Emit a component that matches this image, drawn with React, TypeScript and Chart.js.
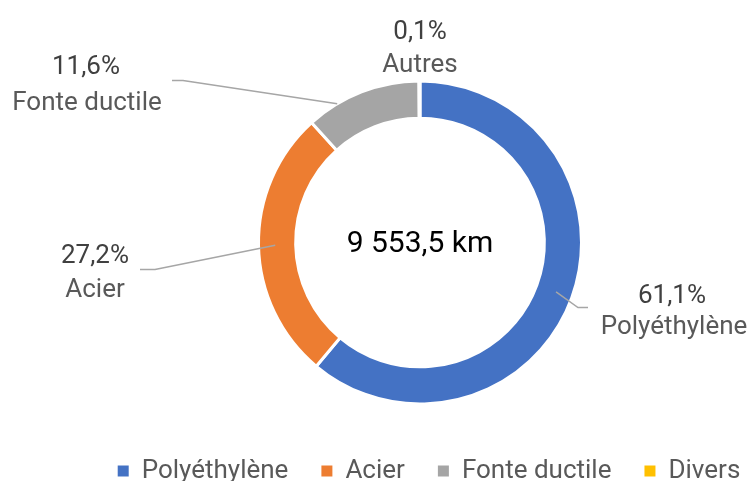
import React, { useEffect, useRef } from 'react';
import { Chart, registerables } from 'chart.js';

Chart.register(...registerables);

// ---- data ----
const categories = ['Polyéthylène', 'Acier', 'Fonte ductile', 'Divers'];
const sliceNames = ['Polyéthylène', 'Acier', 'Fonte ductile', 'Autres'];
const shares = [61.1, 27.2, 11.6, 0.1];
const centerText = '9 553,5 km';

// ---- style ----
const colors = ['#4472C4', '#ED7D31', '#A5A5A5', '#FFC000'];
const FONT = 'Roboto, "Noto Sans", sans-serif';

// label placement relative to chart centre (style only)
type LabelStyle = {
  pct: [number, number];
  name: [number, number];
  leader: null | { frac: number; rfrac: number; elbow: [number, number]; end: [number, number] };
};
const labelStyles: LabelStyle[] = [
  { pct: [252, 54], name: [254, 85], leader: { frac: 0.5, rfrac: 0.55, elbow: [158, 65], end: [168, 65] } },
  { pct: [-325, 14], name: [-325, 48], leader: { frac: 0.5, rfrac: 0.55, elbow: [-265, 27], end: [-280, 27] } },
  { pct: [-334, -175], name: [-333, -139], leader: { frac: 0.27, rfrac: 1.0, elbow: [-237, -162], end: [-248, -162] } },
  { pct: [0, -210], name: [0, -177], leader: null },
];

const fmtPct = (v: number) => v.toFixed(1).replace('.', ',') + '%';

const labelsPlugin = {
  id: 'outLabels',
  afterLayout(chart: any) {
    if (chart.legend) {
      chart.legend.left += 9;
      chart.legend.right += 9;
    }
    const ca = chart.chartArea;
    ca.left += 45;
    ca.width = ca.right - ca.left;
  },
  afterDatasetsDraw(chart: any) {
    const ctx = chart.ctx as CanvasRenderingContext2D;
    const meta = chart.getDatasetMeta(0);
    meta.data.forEach((arc: any, i: number) => {
      const p = arc.getProps(['x', 'y', 'startAngle', 'endAngle', 'innerRadius', 'outerRadius'], true);
      const st = labelStyles[i];
      const cx = p.x, cy = p.y;
      if (st.leader) {
        const a = p.startAngle + (p.endAngle - p.startAngle) * st.leader.frac;
        const r = p.innerRadius + (p.outerRadius - p.innerRadius) * st.leader.rfrac;
        ctx.save();
        ctx.strokeStyle = '#A6A6A6';
        ctx.lineWidth = 1.5;
        ctx.beginPath();
        ctx.moveTo(cx + Math.cos(a) * r, cy + Math.sin(a) * r);
        ctx.lineTo(cx + st.leader.elbow[0], cy + st.leader.elbow[1]);
        ctx.lineTo(cx + st.leader.end[0], cy + st.leader.end[1]);
        ctx.stroke();
        ctx.restore();
      }
      ctx.save();
      ctx.textAlign = 'center';
      ctx.textBaseline = 'middle';
      ctx.font = `26px ${FONT}`;
      ctx.fillStyle = '#404040';
      ctx.fillText(fmtPct(shares[i]), cx + st.pct[0], cy + st.pct[1]);
      ctx.fillStyle = '#595959';
      ctx.fillText(sliceNames[i], cx + st.name[0], cy + st.name[1]);
      ctx.restore();
    });
    // centre text
    const a0 = meta.data[0];
    if (a0) {
      ctx.save();
      ctx.textAlign = 'center';
      ctx.textBaseline = 'middle';
      ctx.font = `30px ${FONT}`;
      ctx.fillStyle = '#000000';
      ctx.fillText(centerText, a0.x, a0.y + 2);
      ctx.restore();
    }
  },
};

export default function App() {
  const ref = useRef<HTMLCanvasElement>(null);
  useEffect(() => {
    if (!ref.current) return;
    const baseGen = (Chart as any).overrides.doughnut.plugins.legend.labels.generateLabels;
    const chart = new Chart(ref.current, {
      type: 'doughnut',
      data: {
        labels: categories,
        datasets: [
          {
            data: shares,
            backgroundColor: colors,
            borderColor: '#FFFFFF',
            borderWidth: 3,
          },
        ],
      },
      options: {
        animation: false,
        responsive: true,
        maintainAspectRatio: false,
        radius: 161.5,
        cutout: '77%',
        layout: { padding: { left: 45, right: -45, top: 60, bottom: -13 } },
        plugins: {
          tooltip: { enabled: false },
          legend: {
            position: 'bottom',
            labels: {
              boxWidth: 11,
              boxHeight: 11,
              padding: 33,
              color: '#595959',
              font: { family: FONT, size: 26 },
              generateLabels: (c: any) =>
                baseGen(c).map((it: any) => ({ ...it, lineWidth: 0, strokeStyle: 'rgba(0,0,0,0)' })),
            },
          },
        },
      },
      plugins: [labelsPlugin],
    });
    return () => chart.destroy();
  }, []);
  return (
    <div style={{ position: 'fixed', left: 0, top: 0, width: 750, height: 481, background: '#fff' }}>
      <canvas ref={ref} />
    </div>
  );
}
